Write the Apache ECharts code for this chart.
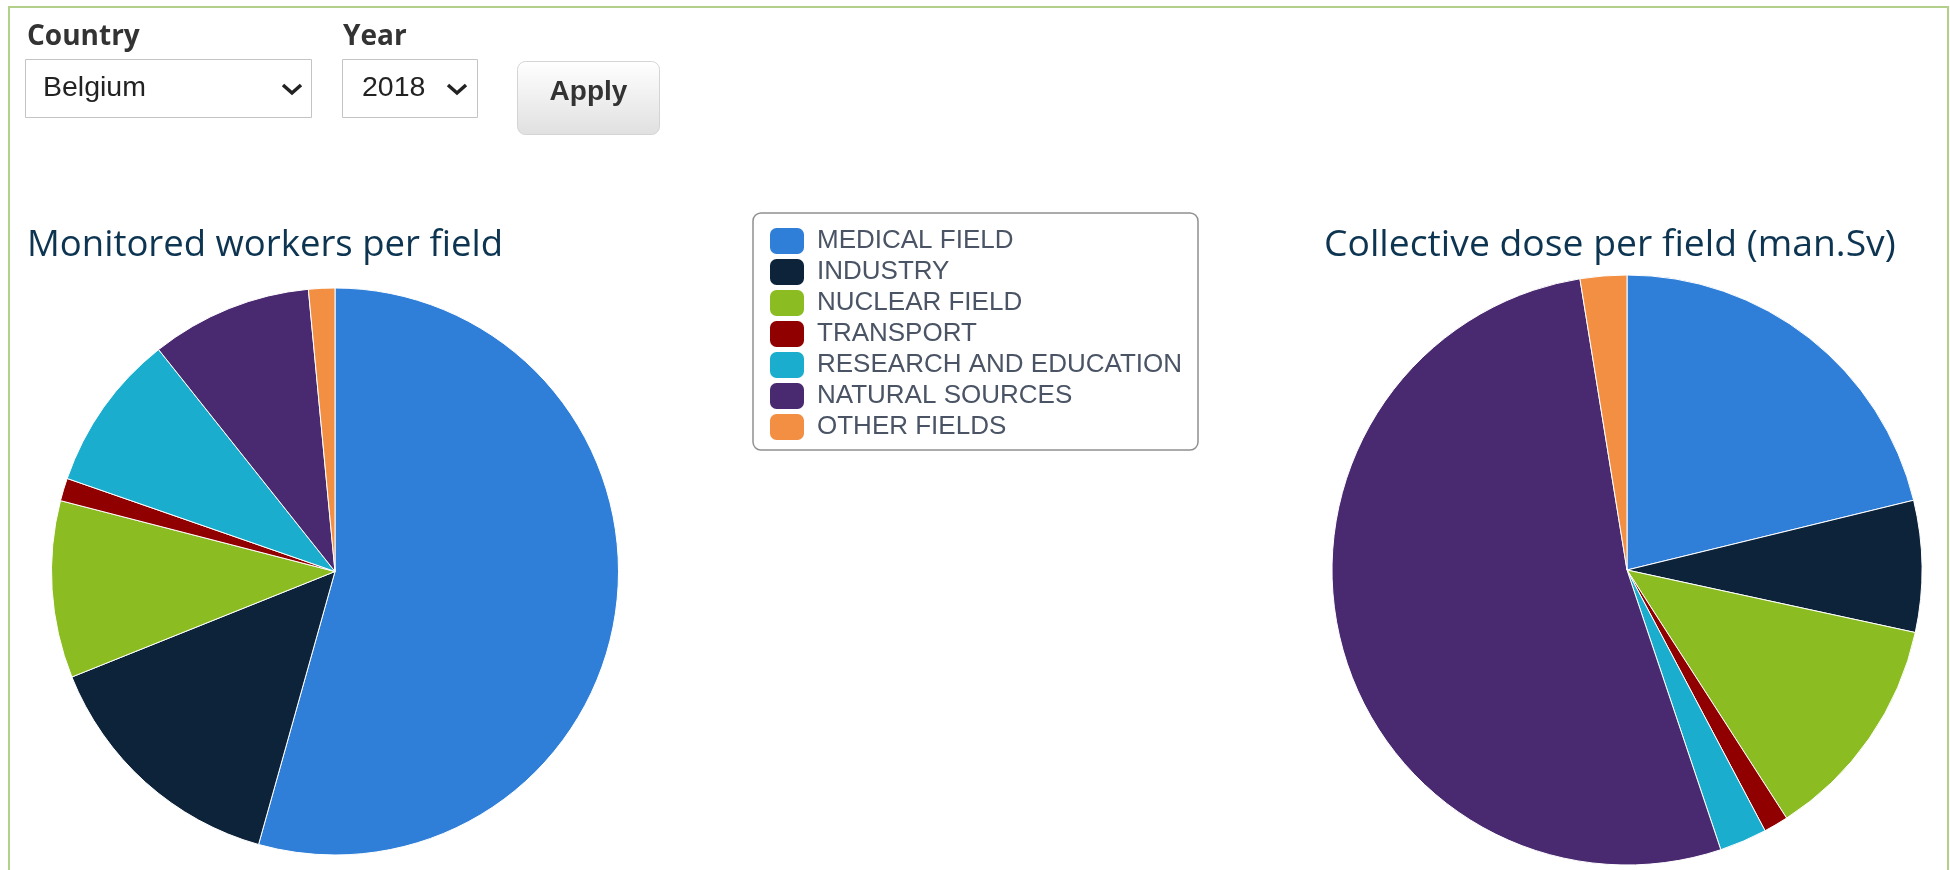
<!DOCTYPE html>
<html>
<head>
<meta charset="utf-8">
<script src="https://cdn.jsdelivr.net/npm/echarts@6/dist/echarts.min.js"></script>
<style>
  html, body { margin: 0; padding: 0; background: #fff; }
  #main { width: 1950px; height: 870px; }
</style>
</head>
<body>
<div id="main"></div>
<script>
// fields shown in the legend and both pies
var fields = [
  'MEDICAL FIELD',
  'INDUSTRY',
  'NUCLEAR FIELD',
  'TRANSPORT',
  'RESEARCH AND EDUCATION',
  'NATURAL SOURCES',
  'OTHER FIELDS'
];
// share of monitored workers (%)
var workers = [54.4, 14.6, 10.1, 1.3, 9.0, 9.2, 1.5];
// share of collective dose (%)
var dose = [21.2, 7.2, 12.5, 1.35, 2.6, 52.6, 2.55];
var colors = ['#2f7ed8', '#0d233a', '#8bbc21', '#910000', '#1aadce', '#492970', '#f28f43'];

var country = 'Belgium';
var year = '2018';

var chartDom = document.getElementById('main');
var myChart = echarts.init(chartDom);
var option;

function pieData(values) {
  return fields.map(function (name, i) {
    return { name: name, value: values[i] };
  });
}

var titleStyle = {
  fontFamily: 'Open Sans',
  fontSize: 36.5,
  fontWeight: 'normal',
  color: '#0d3551'
};

option = {
  animation: false,
  color: colors,
  title: [
    { text: 'Monitored workers per field', left: 27, top: 227, padding: 0, textStyle: titleStyle },
    {
      text: 'Collective dose per field (man.Sv)', left: 1324, top: 227, padding: 0,
      textStyle: Object.assign({}, titleStyle, { fontSize: 37.3 })
    }
  ],
  legend: {
    orient: 'vertical',
    left: 753,
    top: 213,
    data: fields,
    icon: 'roundRect',
    itemWidth: 34,
    itemHeight: 26,
    itemGap: 5,
    padding: [15, 16, 10, 17],
    borderColor: '#909090',
    borderWidth: 1.5,
    borderRadius: 8,
    backgroundColor: '#fff',
    selectedMode: false,
    itemStyle: { borderWidth: 0 },
    textStyle: {
      fontFamily: 'Liberation Sans',
      fontSize: 26,
      color: '#4a5465',
      padding: [2, 0, 0, 8]
    }
  },
  series: [
    {
      name: 'Monitored workers',
      type: 'pie',
      center: [335, 571.5],
      radius: 283.5,
      startAngle: 90,
      clockwise: true,
      label: { show: false },
      labelLine: { show: false },
      itemStyle: { borderColor: '#fff', borderWidth: 1 },
      data: pieData(workers)
    },
    {
      name: 'Collective dose',
      type: 'pie',
      center: [1627, 570],
      radius: 295,
      startAngle: 90,
      clockwise: true,
      label: { show: false },
      labelLine: { show: false },
      itemStyle: { borderColor: '#fff', borderWidth: 1 },
      data: pieData(dose)
    }
  ],
  graphic: [
    // page frame
    { type: 'rect', shape: { x: 9, y: 7, width: 1939, height: 900 }, style: { fill: null, stroke: '#b3d08a', lineWidth: 2 }, silent: true },
    // labels
    { type: 'text', x: 27, y: 37, style: { text: 'Country', fontFamily: 'Open Sans', fontWeight: 'bold', fontSize: 28, fill: '#333', verticalAlign: 'middle' } },
    { type: 'text', x: 343, y: 37, style: { text: 'Year', fontFamily: 'Open Sans', fontWeight: 'bold', fontSize: 28, fill: '#333', verticalAlign: 'middle' } },
    // country select
    { type: 'rect', shape: { x: 25.5, y: 59.5, width: 286, height: 58 }, style: { fill: '#fff', stroke: '#c4c4c4', lineWidth: 1 } },
    { type: 'text', x: 43, y: 88, style: { text: country, fontFamily: 'Liberation Sans', fontSize: 28.5, fill: '#222', verticalAlign: 'middle' } },
    { type: 'polyline', shape: { points: [[283, 85], [292, 93], [301, 85]] }, style: { stroke: '#222', lineWidth: 3.5, fill: null } },
    // year select
    { type: 'rect', shape: { x: 342.5, y: 59.5, width: 135, height: 58 }, style: { fill: '#fff', stroke: '#c4c4c4', lineWidth: 1 } },
    { type: 'text', x: 362, y: 88, style: { text: year, fontFamily: 'Liberation Sans', fontSize: 28.5, fill: '#222', verticalAlign: 'middle' } },
    { type: 'polyline', shape: { points: [[448, 85], [457, 93], [466, 85]] }, style: { stroke: '#222', lineWidth: 3.5, fill: null } },
    // apply button
    {
      type: 'rect',
      shape: { x: 517.5, y: 61.5, width: 142, height: 73, r: 8 },
      style: {
        fill: new echarts.graphic.LinearGradient(0, 0, 0, 1, [
          { offset: 0, color: '#ffffff' },
          { offset: 1, color: '#e0e0e0' }
        ]),
        stroke: '#d4d4d4',
        lineWidth: 1
      }
    },
    { type: 'text', x: 588.5, y: 92, style: { text: 'Apply', fontFamily: 'Liberation Sans', fontWeight: 'bold', fontSize: 28, fill: '#333', align: 'center', verticalAlign: 'middle' } }
  ]
};

option && myChart.setOption(option);
</script>
</body>
</html>
